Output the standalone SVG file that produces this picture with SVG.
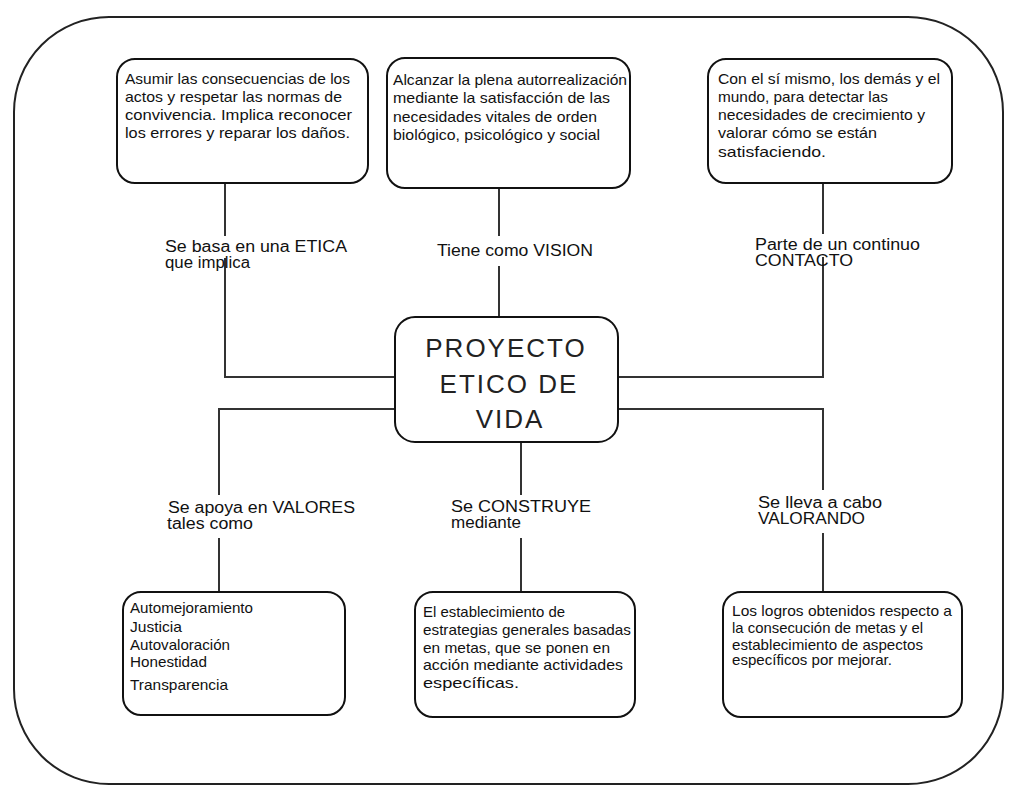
<svg xmlns="http://www.w3.org/2000/svg" width="1009" height="792" viewBox="0 0 1009 792">
  <style>
    .frame { fill: #ffffff; stroke: #222; stroke-width: 2; }
    .box { fill: #ffffff; stroke: #111; stroke-width: 2; }
    .link { fill: none; stroke: #333; stroke-width: 2; }
    .bt { font-family: "Liberation Sans", Arial, sans-serif; font-size: 14.5px; fill: #111; }
    .lbl { font-family: "Liberation Sans", Arial, sans-serif; font-size: 16px; fill: #111; }
    .core { font-family: "Liberation Sans", Arial, sans-serif; font-size: 26px; fill: #222; text-anchor: middle; letter-spacing: 2px; }
  </style>

  <!-- outer frame -->
  <rect class="frame" x="14" y="17" width="989" height="767" rx="95" ry="95"/>

  <!-- connectors with their labels -->
  <g id="connectors">
    <!-- ethics branch -->
    <path class="link" d="M225 183 V236 M225 258 V377 H395"/>
    <text class="lbl" x="165" y="252" textLength="182" lengthAdjust="spacingAndGlyphs">Se basa en una ETICA</text>
    <text class="lbl" x="165" y="268" textLength="85" lengthAdjust="spacingAndGlyphs">que implica</text>

    <!-- vision branch -->
    <path class="link" d="M499 188 V236 M499 266 V317"/>
    <text class="lbl" x="437" y="256" textLength="156" lengthAdjust="spacingAndGlyphs">Tiene como VISION</text>

    <!-- contact branch -->
    <path class="link" d="M823 183 V234 M823 257 V377 H618"/>
    <text class="lbl" x="755" y="250" textLength="165" lengthAdjust="spacingAndGlyphs">Parte de un continuo</text>
    <text class="lbl" x="755" y="266" textLength="98" lengthAdjust="spacingAndGlyphs">CONTACTO</text>

    <!-- values branch -->
    <path class="link" d="M395 409 H219 V495 M219 538 V592"/>
    <text class="lbl" x="168" y="513" textLength="187" lengthAdjust="spacingAndGlyphs">Se apoya en VALORES</text>
    <text class="lbl" x="167" y="529" textLength="86" lengthAdjust="spacingAndGlyphs">tales como</text>

    <!-- construction branch -->
    <path class="link" d="M521 442 V495 M521 538 V592"/>
    <text class="lbl" x="451" y="512" textLength="140" lengthAdjust="spacingAndGlyphs">Se CONSTRUYE</text>
    <text class="lbl" x="451" y="528" textLength="70" lengthAdjust="spacingAndGlyphs">mediante</text>

    <!-- evaluation branch -->
    <path class="link" d="M618 409 H823 V490 M823 533 V592"/>
    <text class="lbl" x="758" y="508" textLength="124" lengthAdjust="spacingAndGlyphs">Se lleva a cabo</text>
    <text class="lbl" x="758" y="524" textLength="107" lengthAdjust="spacingAndGlyphs">VALORANDO</text>
  </g>

  <!-- central node -->
  <g id="proyecto">
    <rect class="box" x="395" y="317" width="223" height="125" rx="20"/>
    <text class="core" x="506" y="357">PROYECTO</text>
    <text class="core" x="509" y="393">ETICO DE</text>
    <text class="core" x="510" y="428">VIDA</text>
  </g>

  <!-- top nodes -->
  <g id="etica">
    <rect class="box" x="117" y="59" width="251" height="124" rx="18"/>
    <text class="bt" x="125" y="84" textLength="225" lengthAdjust="spacingAndGlyphs">Asumir las consecuencias de los</text>
    <text class="bt" x="125" y="102" textLength="217" lengthAdjust="spacingAndGlyphs">actos y respetar las normas de</text>
    <text class="bt" x="125" y="120" textLength="227" lengthAdjust="spacingAndGlyphs">convivencia.  Implica reconocer</text>
    <text class="bt" x="125" y="138" textLength="225" lengthAdjust="spacingAndGlyphs">los errores y reparar los daños.</text>
  </g>

  <g id="vision">
    <rect class="box" x="387" y="58" width="243" height="130" rx="18"/>
    <text class="bt" x="393" y="85" textLength="234" lengthAdjust="spacingAndGlyphs">Alcanzar la plena autorrealización</text>
    <text class="bt" x="393" y="103" textLength="217" lengthAdjust="spacingAndGlyphs">mediante la satisfacción de las</text>
    <text class="bt" x="393" y="122" textLength="204" lengthAdjust="spacingAndGlyphs">necesidades vitales de orden</text>
    <text class="bt" x="393" y="140" textLength="207" lengthAdjust="spacingAndGlyphs">biológico, psicológico y social</text>
  </g>

  <g id="contacto">
    <rect class="box" x="708" y="59" width="244" height="124" rx="18"/>
    <text class="bt" x="718" y="84" textLength="222" lengthAdjust="spacingAndGlyphs">Con el sí mismo, los demás y el</text>
    <text class="bt" x="718" y="102" textLength="170" lengthAdjust="spacingAndGlyphs">mundo, para detectar las</text>
    <text class="bt" x="718" y="120" textLength="207" lengthAdjust="spacingAndGlyphs">necesidades de crecimiento y</text>
    <text class="bt" x="718" y="138" textLength="159" lengthAdjust="spacingAndGlyphs">valorar cómo se están</text>
    <text class="bt" x="718" y="157" textLength="108" lengthAdjust="spacingAndGlyphs">satisfaciendo.</text>
  </g>

  <!-- bottom nodes -->
  <g id="valores">
    <rect class="box" x="123" y="592" width="222" height="123" rx="18"/>
    <text class="bt" x="130" y="613" textLength="123" lengthAdjust="spacingAndGlyphs">Automejoramiento</text>
    <text class="bt" x="130" y="632" textLength="52" lengthAdjust="spacingAndGlyphs">Justicia</text>
    <text class="bt" x="130" y="650" textLength="100" lengthAdjust="spacingAndGlyphs">Autovaloración</text>
    <text class="bt" x="130" y="667" textLength="77" lengthAdjust="spacingAndGlyphs">Honestidad</text>
    <text class="bt" x="130" y="690" textLength="98" lengthAdjust="spacingAndGlyphs">Transparencia</text>
  </g>

  <g id="construccion">
    <rect class="box" x="415" y="592" width="220" height="125" rx="18"/>
    <text class="bt" x="423" y="617" textLength="142" lengthAdjust="spacingAndGlyphs">El establecimiento de</text>
    <text class="bt" x="423" y="635" textLength="208" lengthAdjust="spacingAndGlyphs">estrategias generales basadas</text>
    <text class="bt" x="423" y="653" textLength="187" lengthAdjust="spacingAndGlyphs">en metas, que se ponen en</text>
    <text class="bt" x="423" y="670" textLength="200" lengthAdjust="spacingAndGlyphs">acción mediante actividades</text>
    <text class="bt" x="423" y="688" textLength="96" lengthAdjust="spacingAndGlyphs">específicas.</text>
  </g>

  <g id="valorando">
    <rect class="box" x="723" y="592" width="239" height="125" rx="18"/>
    <text class="bt" x="732" y="616" textLength="220" lengthAdjust="spacingAndGlyphs">Los logros obtenidos respecto a</text>
    <text class="bt" x="732" y="633" textLength="191" lengthAdjust="spacingAndGlyphs">la consecución de metas y el</text>
    <text class="bt" x="732" y="650" textLength="191" lengthAdjust="spacingAndGlyphs">establecimiento de aspectos</text>
    <text class="bt" x="732" y="665" textLength="160" lengthAdjust="spacingAndGlyphs">específicos por mejorar.</text>
  </g>
</svg>
